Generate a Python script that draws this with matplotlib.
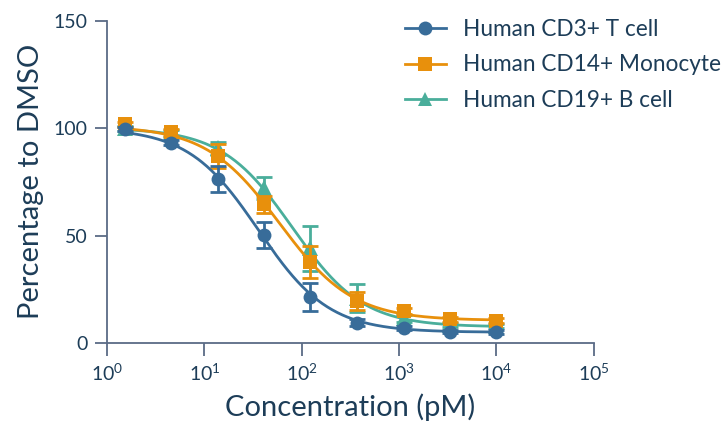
import numpy as np
import matplotlib
matplotlib.use('Agg')
import matplotlib.pyplot as plt
from matplotlib.lines import Line2D

plt.rcParams['font.family'] = ['Lato', 'DejaVu Sans']
plt.rcParams['mathtext.fontset'] = 'custom'
plt.rcParams['mathtext.rm'] = 'Lato'

# concentrations (pM), 3-fold dilution series
conc = [1.52, 4.57, 13.7, 41.2, 123, 370, 1111, 3333, 10000]

tcell = [99.5, 93.2, 76.3, 50.2, 21.5, 9.5, 7.1, 5.3, 5.1]
tcell_err = [1, 1, 6, 6, 6.5, 1.5, 1, 0.8, 0.8]
mono = [101.7, 98, 87.1, 64.5, 37.8, 19.5, 14.9, 11, 10.4]
mono_err = [1, 1.5, 5.5, 4, 7.5, 4, 1.5, 1, 1]
bcell = [99.8, 97.5, 90.5, 72, 44, 21, 11.5, 8.5, 8]
bcell_err = [1, 1.5, 3, 5, 10.5, 6.4, 1.5, 1, 1]

# 4PL fit parameters: top, bottom, IC50, hill
fit_t = (100, 5, 36, 1.2)
fit_m = (101, 10.5, 59, 1.15)
fit_b = (100, 7.5, 80, 1.2)

labels = ['Human CD3+ T cell', 'Human CD14+ Monocyte', 'Human CD19+ B cell']
colors = ['#386c99', '#e8900c', '#4aae9b']
markers = ['o', 's', '^']
text_col = '#1d3d58'
axis_col = '#5b6b86'


def fourpl(x, top, bottom, ic50, hill):
    return bottom + (top - bottom) / (1 + (x / ic50) ** hill)


fig = plt.figure(figsize=(7.25, 4.28), dpi=100)
ax = fig.add_axes([0.1476, 0.1986, 0.819 - 0.1476, 0.952 - 0.1986])

xs = np.logspace(np.log10(conc[0]), np.log10(conc[-1]), 300)
series = [(tcell, tcell_err, fit_t), (mono, mono_err, fit_m), (bcell, bcell_err, fit_b)]
zs = [6, 4, 2]
for (y, err, fit), c, m, z in zip(series, colors, markers, zs):
    ax.plot(xs, fourpl(xs, *fit), color=c, lw=2, zorder=z, clip_on=False)
    ax.errorbar(conc, y, yerr=err, fmt='none', ecolor=c, elinewidth=2,
                capsize=6, capthick=2, zorder=z + 1, clip_on=False)
    ms = 10 if m != '^' else 11
    ax.plot(conc, y, ls='none', marker=m, color=c, ms=ms, mew=0,
            zorder=z + 1, clip_on=False)

ax.set_xscale('log')
ax.set_xlim(1, 1e5)
ax.set_ylim(0, 150)
ax.set_yticks([0, 50, 100, 150])
ax.set_xticks([1, 10, 100, 1000, 1e4, 1e5])
ax.minorticks_off()

for s in ['top', 'right']:
    ax.spines[s].set_visible(False)
for s in ['left', 'bottom']:
    ax.spines[s].set_color(axis_col)
    ax.spines[s].set_linewidth(1.3)
ax.tick_params(axis='both', colors=axis_col, width=1.3, length=9,
               labelsize=14, labelcolor=text_col, pad=5)

ax.set_xlabel('Concentration (pM)', fontsize=21, color=text_col, labelpad=7)
ax.set_ylabel('Percentage to DMSO', fontsize=21, color=text_col, labelpad=7)

handles = [Line2D([0], [0], color=c, marker=m, ms=10, mew=0, lw=2)
           for c, m in zip(colors, markers)]
leg = ax.legend(handles, labels, loc='upper left', bbox_to_anchor=(0.57, 1.068),
                frameon=False, fontsize=16.3, handlelength=1.8, handletextpad=0.75,
                labelspacing=0.64, labelcolor=text_col)

fig.savefig('out.png', dpi=100)
